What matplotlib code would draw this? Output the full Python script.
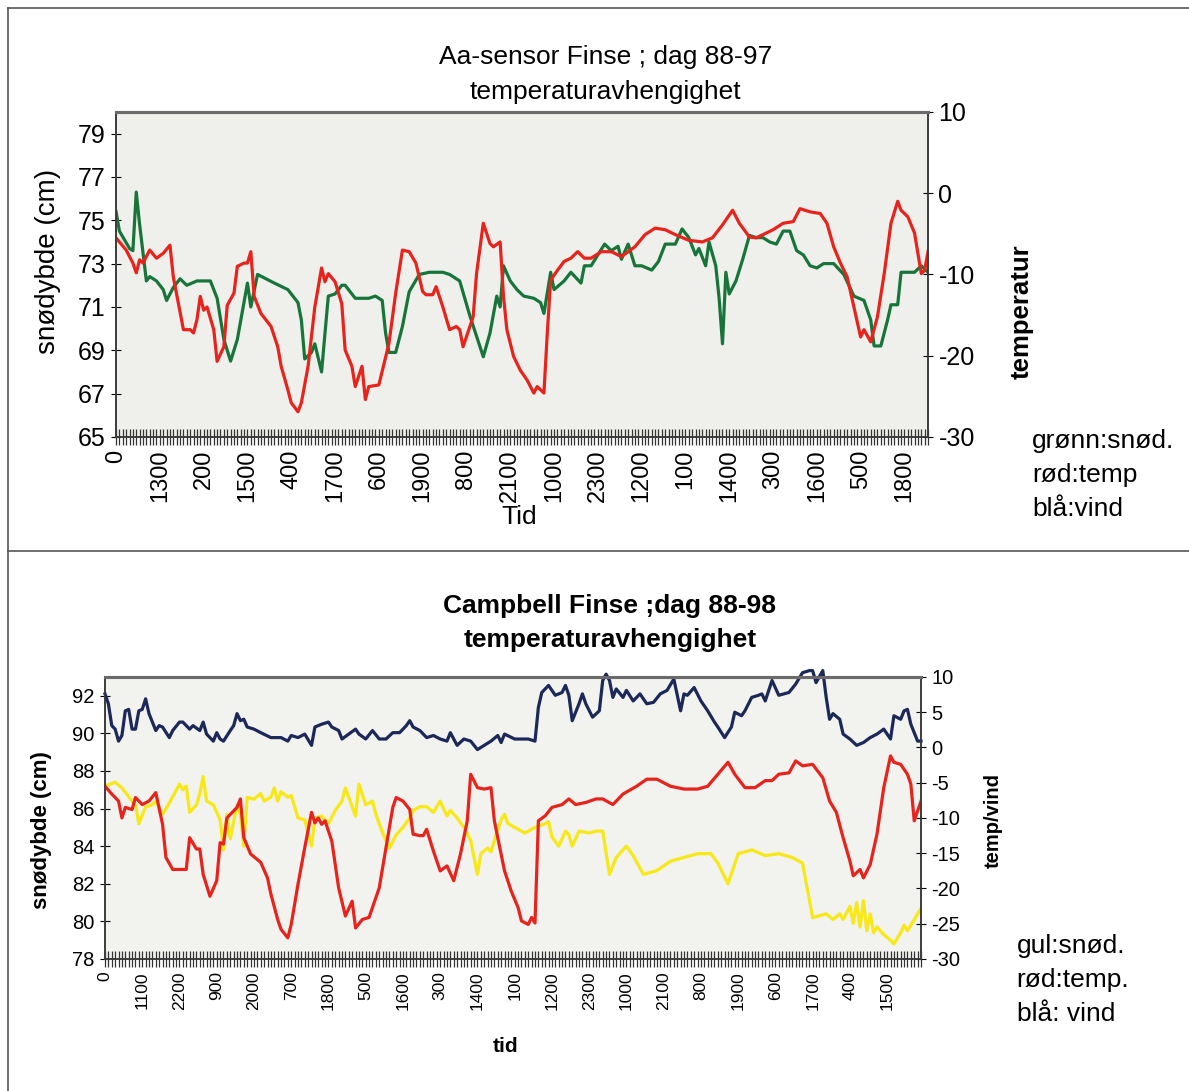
import numpy as np
import matplotlib
matplotlib.use('Agg')
import matplotlib.pyplot as plt
from matplotlib.ticker import MultipleLocator
from matplotlib.lines import Line2D

plt.rcParams['font.family'] = ['Liberation Sans', 'DejaVu Sans']
plt.rcParams['axes.unicode_minus'] = False

LAST_HOUR = 241

# x labels (clock hour of every 13th / 11th reading)
TOP_TICK_STEP = 13
TOP_TICK_LABELS = ['0', '1300', '200', '1500', '400', '1700', '600', '1900', '800',
                   '2100', '1000', '2300', '1200', '100', '1400', '300', '1600',
                   '500', '1800']
BOTTOM_TICK_STEP = 11
BOTTOM_TICK_LABELS = ['0', '1100', '2200', '900', '2000', '700', '1800', '500',
                      '1600', '300', '1400', '100', '1200', '2300', '1000', '2100',
                      '800', '1900', '600', '1700', '400', '1500']

# Aa-sensor, dag 88-97
AA_SNOW_HOURS = [0, 1, 4, 5, 6, 7, 9, 10, 12, 14, 15, 17, 19, 21, 24, 28, 30, 32, 34,
                 36, 39, 40, 42, 47, 51, 54, 55, 56, 58, 59, 61, 63, 65, 67, 68, 71,
                 75, 77, 79, 80, 81, 83, 85, 87, 90, 93, 97, 99, 102, 105, 109, 111,
                 113, 114, 115, 117, 119, 121, 124, 126, 127, 129, 130, 133, 135, 138,
                 139, 141, 145, 147, 149, 150, 152, 154, 156, 159, 161, 163, 166, 168,
                 170, 172, 173, 175, 176, 178, 179, 180, 181, 182, 184, 186, 188, 190,
                 192, 194, 196, 198, 200, 202, 204, 206, 208, 210, 213, 216, 219, 222,
                 224, 225, 227, 229, 230, 232, 233, 237, 239, 241]
AA_SNOW_CM = [75.4, 74.5, 73.7, 73.6, 76.3, 74.8, 72.2, 72.4, 72.2, 71.8, 71.3, 71.9,
              72.3, 72.0, 72.2, 72.2, 71.4, 69.5, 68.5, 69.5, 72.1, 71.0, 72.5, 72.1,
              71.8, 71.2, 70.4, 68.6, 68.9, 69.3, 68.0, 71.5, 71.6, 72.0, 72.0, 71.4,
              71.4, 71.5, 71.3, 69.8, 68.9, 68.9, 70.1, 71.7, 72.5, 72.6, 72.6, 72.5,
              72.2, 70.6, 68.7, 69.8, 71.5, 71.0, 72.9, 72.2, 71.8, 71.5, 71.4, 71.2,
              70.7, 72.6, 71.8, 72.2, 72.6, 72.1, 72.9, 72.9, 73.9, 73.6, 73.8, 73.2,
              73.9, 72.9, 72.9, 72.7, 73.1, 73.9, 73.9, 74.6, 74.2, 73.4, 73.7, 72.9,
              74.0, 72.9, 71.4, 69.3, 72.6, 71.6, 72.2, 73.2, 74.3, 74.2, 74.2, 74.0,
              73.9, 74.5, 74.5, 73.6, 73.4, 72.9, 72.8, 73.0, 73.0, 72.5, 71.5, 71.3,
              70.4, 69.2, 69.2, 70.4, 71.1, 71.1, 72.6, 72.6, 72.9, 72.6]
AA_TEMP_HOURS = [0, 3, 5, 6, 7, 8, 10, 12, 14, 16, 17, 20, 22, 23, 24, 25, 26, 27, 29,
                 30, 32, 33, 35, 36, 38, 39, 40, 41, 43, 46, 48, 49, 51, 52, 54, 55, 57,
                 59, 61, 62, 63, 65, 67, 68, 70, 71, 73, 74, 75, 78, 81, 83, 85, 87, 89,
                 91, 92, 94, 95, 97, 99, 101, 102, 103, 106, 107, 109, 111, 112, 114,
                 115, 116, 118, 120, 122, 124, 125, 127, 128, 129, 131, 133, 135, 137,
                 139, 141, 144, 147, 150, 154, 157, 160, 163, 166, 170, 174, 177, 180,
                 183, 185, 188, 190, 193, 195, 198, 201, 203, 206, 209, 211, 213, 215,
                 217, 219, 221, 222, 224, 226, 228, 230, 232, 233, 235, 237, 238, 239,
                 240, 241]
AA_TEMP_C = [-5.5, -7.0, -8.6, -9.8, -8.2, -8.6, -7.0, -8.0, -7.4, -6.4, -10.3, -16.8,
             -16.8, -17.2, -15.6, -12.7, -14.4, -14.0, -16.8, -20.7, -18.9, -13.8, -12.3,
             -9.0, -8.6, -8.6, -7.2, -12.7, -14.8, -16.4, -18.9, -21.3, -24.2, -25.8,
             -26.9, -25.8, -21.3, -14.0, -9.2, -10.9, -9.9, -10.9, -13.6, -19.3, -21.3,
             -23.8, -21.3, -25.4, -23.8, -23.6, -18.5, -12.3, -7.0, -7.2, -8.6, -12.1,
             -12.5, -12.5, -11.5, -14.0, -16.8, -16.4, -16.8, -18.9, -15.2, -9.9, -3.7,
             -6.2, -6.6, -6.0, -12.7, -16.8, -20.1, -21.8, -23.0, -24.6, -23.8, -24.6,
             -17.2, -10.7, -9.5, -8.4, -8.0, -7.2, -8.0, -8.0, -7.2, -7.2, -7.8, -6.6,
             -5.1, -4.3, -4.5, -5.1, -5.8, -6.0, -5.5, -3.9, -2.1, -3.7, -5.4, -5.5,
             -4.9, -4.5, -3.7, -3.5, -1.9, -2.3, -2.5, -3.7, -6.6, -8.6, -10.3, -14.0,
             -17.7, -16.8, -18.3, -15.2, -9.9, -3.7, -1.0, -2.1, -2.9, -4.9, -7.4, -9.9,
             -9.5, -7.2]

# Campbell, dag 88-98
CA_WIND_HOURS = [0, 1, 2, 3, 4, 5, 6, 7, 8, 9, 10, 11, 12, 13, 15, 16, 17, 19, 20, 22,
                 23, 25, 26, 28, 29, 30, 32, 33, 34, 35, 37, 38, 39, 40, 41, 42, 44, 46,
                 49, 52, 54, 55, 57, 59, 61, 62, 64, 66, 67, 69, 70, 72, 74, 75, 77, 79,
                 81, 83, 85, 87, 89, 90, 91, 93, 95, 97, 99, 101, 102, 104, 106, 108,
                 110, 112, 114, 116, 117, 118, 121, 123, 125, 127, 128, 129, 131, 133,
                 135, 136, 137, 138, 140, 141, 142, 144, 146, 147, 148, 149, 150, 151,
                 153, 154, 156, 158, 160, 162, 164, 166, 168, 170, 171, 172, 174, 176,
                 178, 180, 181, 183, 185, 186, 188, 189, 191, 193, 194, 195, 197, 199,
                 202, 204, 206, 208, 209, 210, 212, 213, 214, 215, 217, 218, 220, 222,
                 224, 226, 228, 230, 232, 233, 235, 236, 237, 238, 240, 241]
CA_WIND = [7.6, 6.2, 3.1, 2.6, 0.9, 1.7, 5.2, 5.4, 2.6, 2.6, 5.2, 5.4, 6.9, 4.8, 2.4,
           3.1, 2.9, 1.4, 2.4, 3.6, 3.6, 2.6, 3.1, 2.4, 3.6, 1.9, 0.9, 2.1, 1.2, 0.9,
           2.4, 3.1, 4.8, 3.8, 4.0, 2.9, 2.6, 2.1, 1.4, 1.4, 0.9, 1.7, 1.4, 1.9, 0.3,
           2.9, 3.3, 3.6, 2.9, 2.4, 1.2, 1.9, 2.6, 1.9, 1.2, 2.4, 1.2, 1.2, 2.1, 2.1,
           3.1, 3.8, 2.9, 2.4, 1.4, 1.7, 1.2, 0.9, 2.1, 0.3, 1.2, 0.9, -0.3, 0.3, 0.9,
           1.7, 0.7, 1.9, 1.2, 1.2, 1.2, 0.9, 5.7, 7.8, 8.8, 7.4, 7.8, 8.8, 7.4, 3.8,
           6.2, 7.6, 6.2, 4.3, 5.2, 9.5, 10.4, 9.5, 7.1, 8.3, 7.1, 8.1, 6.6, 7.6, 6.2,
           6.4, 7.6, 8.1, 9.7, 5.2, 7.6, 7.4, 8.5, 6.6, 5.2, 3.6, 2.9, 1.4, 2.9, 5.0,
           4.5, 5.2, 7.1, 7.4, 7.6, 6.6, 9.5, 7.4, 7.8, 9.0, 10.6, 10.9, 10.9, 9.2,
           10.9, 7.1, 4.0, 4.8, 4.0, 1.9, 1.2, 0.3, 0.7, 1.4, 1.9, 2.6, 1.2, 4.5, 4.0,
           5.2, 5.4, 3.3, 0.9, 0.9]
CA_TEMP_HOURS = [0, 2, 4, 5, 6, 8, 9, 11, 13, 15, 17, 18, 20, 21, 24, 25, 27, 28, 29,
                 31, 33, 34, 35, 36, 38, 39, 40, 41, 43, 46, 48, 49, 51, 52, 54, 55, 57,
                 59, 61, 62, 63, 64, 65, 67, 69, 71, 73, 74, 76, 78, 81, 83, 85, 86, 88,
                 90, 91, 93, 94, 95, 97, 99, 101, 103, 105, 107, 108, 110, 112, 114, 115,
                 116, 118, 120, 122, 123, 125, 126, 127, 128, 130, 132, 135, 137, 139,
                 142, 145, 147, 150, 153, 157, 160, 163, 167, 171, 175, 178, 181, 184,
                 186, 189, 192, 195, 197, 199, 202, 204, 206, 209, 212, 214, 216, 218,
                 220, 221, 223, 224, 226, 228, 230, 232, 233, 235, 237, 238, 239, 241]
CA_TEMP_C = [-5.5, -6.6, -7.6, -10.0, -8.5, -8.8, -7.1, -8.1, -7.6, -6.4, -10.9, -15.6,
             -17.3, -17.3, -17.3, -12.8, -14.4, -14.4, -18.0, -21.1, -18.9, -13.5, -13.7,
             -10.0, -9.0, -8.5, -7.3, -12.8, -15.1, -16.3, -18.5, -20.8, -24.4, -25.8,
             -27.0, -25.1, -19.4, -14.2, -9.2, -10.7, -10.0, -10.9, -10.4, -13.3, -19.9,
             -23.9, -21.8, -25.6, -24.4, -24.1, -19.9, -14.2, -8.5, -7.1, -7.6, -8.8,
             -12.3, -12.5, -12.5, -11.6, -14.7, -17.5, -16.8, -18.9, -15.1, -10.4, -3.8,
             -5.7, -5.9, -5.7, -10.4, -12.8, -17.5, -20.4, -22.7, -24.6, -25.1, -24.1,
             -24.9, -10.4, -9.7, -8.5, -8.1, -7.3, -8.1, -7.8, -7.3, -7.3, -8.1, -6.6,
             -5.5, -4.5, -4.5, -5.5, -5.9, -5.9, -5.5, -3.8, -2.1, -3.8, -5.7, -5.7,
             -4.7, -4.7, -3.8, -3.6, -1.9, -2.6, -2.4, -4.3, -7.6, -9.2, -12.8, -16.1,
             -18.2, -17.3, -18.5, -16.6, -12.3, -5.7, -1.2, -2.1, -2.4, -3.8, -5.2,
             -10.4, -7.6]
CA_SNOW_HOURS = [0, 3, 5, 8, 9, 10, 12, 14, 15, 17, 19, 22, 23, 24, 25, 27, 28, 29, 30,
                 32, 34, 35, 36, 37, 39, 40, 41, 42, 44, 46, 47, 49, 50, 51, 52, 54, 55,
                 57, 59, 61, 62, 64, 66, 68, 70, 71, 73, 74, 75, 77, 79, 80, 82, 84, 86,
                 88, 90, 91, 93, 95, 97, 99, 101, 102, 104, 106, 108, 110, 111, 113, 114,
                 115, 117, 118, 119, 121, 124, 127, 130, 131, 132, 134, 136, 137, 138,
                 140, 143, 145, 147, 149, 151, 154, 156, 159, 163, 167, 171, 175, 179,
                 181, 184, 187, 191, 195, 199, 203, 206, 209, 211, 213, 215, 217, 218,
                 220, 221, 222, 223, 224, 225, 226, 227, 228, 230, 232, 233, 235, 236,
                 237, 239, 241]
CA_SNOW_CM = [87.2, 87.4, 87.1, 86.4, 86.2, 85.2, 86.1, 86.2, 86.4, 85.7, 86.3, 87.3,
              87.0, 87.2, 85.8, 86.2, 86.8, 87.7, 86.4, 86.2, 85.4, 83.8, 85.7, 84.4,
              86.2, 85.7, 84.0, 86.6, 86.5, 86.8, 86.4, 86.6, 87.1, 86.4, 86.9, 86.6,
              86.7, 85.5, 85.4, 84.0, 85.5, 85.6, 85.2, 85.9, 86.4, 87.1, 86.1, 85.6,
              87.3, 86.2, 86.4, 85.7, 84.7, 83.9, 84.6, 85.0, 85.5, 85.9, 86.1, 86.1,
              85.8, 86.4, 85.6, 85.9, 85.5, 85.0, 84.3, 82.5, 83.6, 83.9, 83.7, 84.3,
              85.4, 85.7, 85.2, 85.0, 84.7, 85.0, 85.2, 85.3, 84.5, 84.0, 84.8, 84.6,
              84.0, 84.8, 84.7, 84.8, 84.8, 82.5, 83.4, 84.0, 83.5, 82.5, 82.7, 83.2,
              83.4, 83.6, 83.6, 83.1, 82.0, 83.6, 83.8, 83.5, 83.6, 83.4, 83.1, 80.2,
              80.3, 80.4, 80.1, 80.4, 80.1, 80.8, 79.9, 81.0, 79.7, 81.1, 79.5, 80.4,
              79.4, 79.7, 79.3, 79.0, 78.8, 79.4, 79.8, 79.5, 80.1, 80.7]

GREEN = '#17753a'
RED = '#e8231c'
NAVY = '#1b2858'
YELLOW = '#f7e816'
FRAME = '#3c3c3c'


def style_pair(ax, ax2, tick_step, tick_labels, xsize, ysize):
    ax.set_xlim(0, LAST_HOUR)
    ax.set_xticks(np.arange(len(tick_labels)) * tick_step)
    ax.set_xticklabels(tick_labels)
    ax.xaxis.set_minor_locator(MultipleLocator(1))
    ax.tick_params(axis='x', which='both', direction='inout', length=12, width=0.9,
                   color='#333333', pad=3)
    ax.tick_params(axis='x', which='major', labelsize=xsize, labelrotation=90)
    ax.tick_params(axis='y', direction='inout', length=7, width=0.8, labelsize=ysize,
                   pad=4)
    ax2.tick_params(axis='y', direction='inout', length=7, width=0.8, labelsize=ysize,
                    pad=4)
    for a in (ax, ax2):
        for side in a.spines:
            a.spines[side].set_color(FRAME)
            a.spines[side].set_linewidth(1.2)
        a.spines['top'].set_linewidth(2.2)
        a.spines['top'].set_color('#6a6a6a')


fig = plt.figure(figsize=(11.89, 10.91), dpi=100)

# scanned page border and panel separator
fig.add_artist(Line2D([0.0067, 1.0], [0.9927, 0.9927], color='#555555', lw=1.2))
fig.add_artist(Line2D([0.0067, 0.0067], [0.0, 0.9927], color='#555555', lw=1.2))
fig.add_artist(Line2D([0.0067, 1.0], [0.495, 0.495], color='#555555', lw=1.2))

# ---- top panel: Aa-sensor
ax1 = fig.add_axes([0.0976, 0.5995, 0.6829, 0.2979])
ax1.set_facecolor('#efefec')
ax1b = ax1.twinx()
ax1.plot(AA_SNOW_HOURS, AA_SNOW_CM, color=GREEN, lw=2.3)
ax1b.plot(AA_TEMP_HOURS, AA_TEMP_C, color=RED, lw=2.3)
ax1.set_ylim(65, 80)
ax1.set_yticks(np.arange(65, 80, 2))
ax1b.set_ylim(-30, 10)
ax1b.set_yticks(np.arange(-30, 11, 10))
style_pair(ax1, ax1b, TOP_TICK_STEP, TOP_TICK_LABELS, 17, 18)

fig.text(0.509, 0.948, 'Aa-sensor Finse ; dag 88-97', ha='center', va='center',
         fontsize=19)
fig.text(0.509, 0.916, 'temperaturavhengighet', ha='center', va='center', fontsize=19)
fig.text(0.040, 0.760, 'snødybde (cm)', rotation=90, ha='center', va='center',
         fontsize=20)
fig.text(0.859, 0.714, 'temperatur', rotation=90, ha='center', va='center',
         fontsize=18.5, fontweight='bold')
fig.text(0.437, 0.526, 'Tid', ha='center', va='center', fontsize=19)
for i, txt in enumerate(['grønn:snød.', 'rød:temp', 'blå:vind']):
    fig.text(0.868, 0.596 - i * 0.0315, txt, ha='left', va='center', fontsize=19)

# ---- bottom panel: Campbell
ax2 = fig.add_axes([0.0883, 0.1210, 0.6863, 0.2585])
ax2.set_facecolor('#f2f2ef')
ax2b = ax2.twinx()
ax2.plot(CA_SNOW_HOURS, CA_SNOW_CM, color=YELLOW, lw=2.3)
ax2b.plot(CA_WIND_HOURS, CA_WIND, color=NAVY, lw=2.3, clip_on=False)
ax2b.plot(CA_TEMP_HOURS, CA_TEMP_C, color=RED, lw=2.3)
ax2.set_ylim(78, 93)
ax2.set_yticks(np.arange(78, 93, 2))
ax2b.set_ylim(-30, 10)
ax2b.set_yticks(np.arange(-30, 11, 5))
style_pair(ax2, ax2b, BOTTOM_TICK_STEP, BOTTOM_TICK_LABELS, 12.5, 14.5)

fig.text(0.513, 0.445, 'Campbell Finse ;dag 88-98', ha='center', va='center',
         fontsize=19, fontweight='bold')
fig.text(0.513, 0.413, 'temperaturavhengighet', ha='center', va='center',
         fontsize=19, fontweight='bold')
fig.text(0.0345, 0.239, 'snødybde (cm)', rotation=90, ha='center', va='center',
         fontsize=16, fontweight='bold')
fig.text(0.835, 0.248, 'temp/vind', rotation=90, ha='center', va='center',
         fontsize=14.5, fontweight='bold')
fig.text(0.425, 0.041, 'tid', ha='center', va='center', fontsize=15,
         fontweight='bold')
for i, txt in enumerate(['gul:snød.', 'rød:temp.', 'blå: vind']):
    fig.text(0.855, 0.133 - i * 0.031, txt, ha='left', va='center', fontsize=19)

fig.savefig('out.png', dpi=100)
